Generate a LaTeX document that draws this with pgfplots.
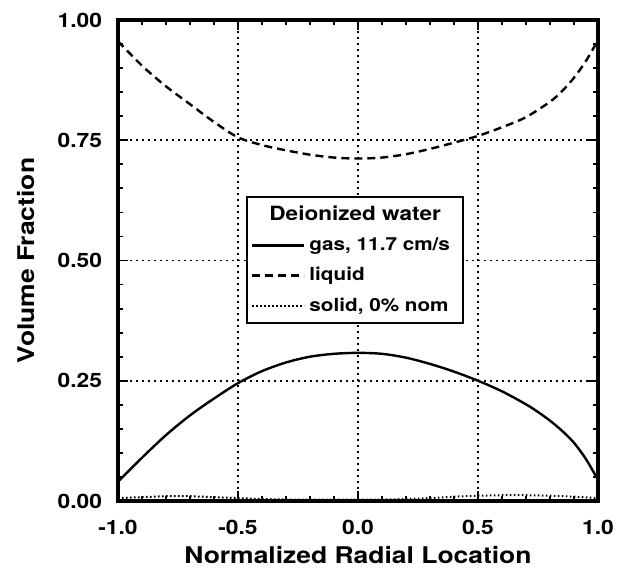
\documentclass[border=0pt]{standalone}
\usepackage{pgfplots}
\pgfplotsset{compat=1.18}
\usepackage{fontspec}
\setmainfont{TeX Gyre Heros}[FakeStretch=1.15]
\begin{document}
\begin{tikzpicture}
\path[use as bounding box] (-59pt,-34pt) rectangle (249.5pt,250.5pt);
\begin{axis}[
  at={(0,0)}, anchor=south west,
  scale only axis,
  width=240pt, height=240.5pt,
  xmin=-1, xmax=1, ymin=0, ymax=1,
  xtick={-1,-0.5,0,0.5,1},
  ytick={0,0.25,0.5,0.75,1},
  minor x tick num=4,
  minor y tick num=4,
  tick align=inside,
  major tick length=5pt,
  minor tick length=2.5pt,
  every tick/.style={black, line width=0.9pt},
  axis line style={line width=1.9pt},
  grid=major,
  major grid style={black, line width=0.8pt, dash pattern=on 0.9pt off 2.1pt},
  /pgf/number format/assume math mode=true,
  xticklabel style={/pgf/number format/fixed, /pgf/number format/fixed zerofill, /pgf/number format/precision=1, font=\bfseries\fontsize{9.9}{11}\selectfont, yshift=-6pt},
  yticklabel style={/pgf/number format/fixed, /pgf/number format/fixed zerofill, /pgf/number format/precision=2, font=\bfseries\fontsize{9.9}{11}\selectfont, xshift=-4.5pt},
  xlabel={Normalized Radial Location},
  ylabel={Volume Fraction},
  xlabel style={font=\bfseries\fontsize{11.5}{13}\selectfont, at={(axis description cs:0.5,-0.129)}, anchor=base},
  ylabel style={font=\bfseries\fontsize{11.5}{13}\selectfont, at={(axis description cs:-0.173,0.5)}, anchor=base},
  legend style={at={(0.267,0.634)}, anchor=north west, draw=black, line width=0.9pt,
    font=\bfseries\fontsize{9}{10}\selectfont, row sep=3pt, inner xsep=2pt, inner ysep=2.5pt},
  legend cell align=left,
  legend image code/.code={\draw[#1] (0pt,0pt) -- (26pt,0pt);},
]
\addlegendimage{empty legend}
\addlegendentry{\makebox[0pt][l]{\hspace*{-20pt}\fontsize{9.8}{10}\selectfont Deionized water}}

\addplot[black, line width=1.2pt, smooth] coordinates {
(-1.0,0.040) (-0.9,0.090) (-0.8,0.137) (-0.7,0.178) (-0.6,0.213) (-0.5,0.245)
(-0.4,0.270) (-0.3,0.288) (-0.2,0.300) (-0.1,0.306) (0.0,0.308)
(0.1,0.306) (0.2,0.298) (0.3,0.285) (0.4,0.269) (0.5,0.250)
(0.6,0.228) (0.7,0.201) (0.75,0.185) (0.8,0.167) (0.85,0.146) (0.9,0.121) (0.95,0.087) (1.0,0.044)};
\addlegendentry{gas, 11.7 cm/s}

\addplot[black, line width=1.2pt, smooth, dash pattern=on 4pt off 2.5pt] coordinates {
(-1.0,0.956) (-0.9,0.905) (-0.8,0.862) (-0.7,0.825) (-0.6,0.788) (-0.5,0.756)
(-0.4,0.740) (-0.3,0.729) (-0.2,0.720) (-0.1,0.714) (0.0,0.712)
(0.1,0.714) (0.2,0.721) (0.3,0.732) (0.4,0.745) (0.5,0.759)
(0.6,0.777) (0.7,0.798) (0.8,0.830) (0.85,0.852) (0.9,0.880) (0.95,0.915) (1.0,0.958)};
\addlegendentry{liquid}

\addplot[black, line width=1pt, dash pattern=on 0.8pt off 1.2pt] coordinates {
(-1.0,0.006) (-0.9,0.008) (-0.8,0.010) (-0.7,0.010) (-0.6,0.008) (-0.5,0.006)
(-0.4,0.004) (-0.3,0.003) (-0.2,0.003) (-0.1,0.003) (0.0,0.003)
(0.1,0.003) (0.2,0.004) (0.3,0.006) (0.4,0.009) (0.5,0.011)
(0.6,0.012) (0.7,0.012) (0.8,0.011) (0.9,0.009) (1.0,0.006)};
\addlegendentry{solid, 0\% nom\hspace*{3pt}}
\end{axis}
\end{tikzpicture}
\end{document}
